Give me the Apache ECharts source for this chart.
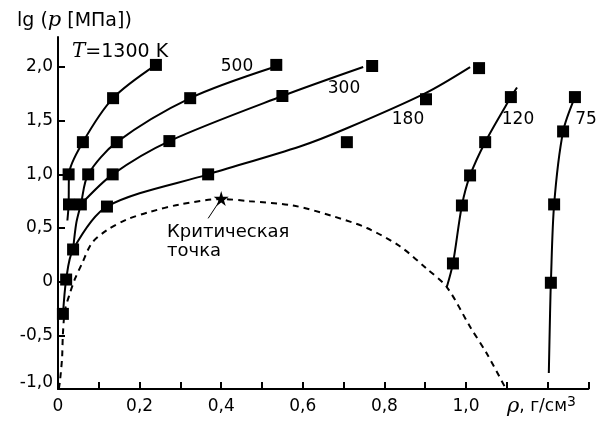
<!DOCTYPE html>
<html>
<head>
<meta charset="utf-8">
<script src="https://cdn.jsdelivr.net/npm/echarts@6/dist/echarts.min.js"></script>
<style>
  html, body { margin: 0; padding: 0; background: #fff; }
  #chart { width: 606px; height: 422px; }
</style>
</head>
<body>
<div id="chart"></div>
<script>
// measured points (squares), [rho, lg p]
var sq1300 = [[0.026, 1.0], [0.061, 1.30], [0.135, 1.71], [0.24, 2.02]]
var sqLow = [[0.027, 0.72], [0.056, 0.72]]
var sq500 = [[0.074, 1.0], [0.144, 1.30], [0.324, 1.71], [0.535, 2.02]]
var sq300 = [[0.134, 1.0], [0.273, 1.31], [0.55, 1.73], [0.77, 2.01]]
var sq180 = [[0.012, -0.30], [0.02, 0.02], [0.037, 0.30], [0.12, 0.70], [0.368, 1.0], [0.708, 1.30], [0.902, 1.70], [1.032, 1.99]]
var sq120 = [[0.968, 0.17], [0.99, 0.71], [1.01, 0.99], [1.047, 1.30], [1.11, 1.72]]
var sq75 = [[1.208, -0.01], [1.216, 0.72], [1.238, 1.40], [1.267, 1.72]]

// isotherm curves
var line1300 = [[0.023, 0.57], [0.026, 0.72], [0.027, 1.0], [0.061, 1.30], [0.135, 1.71], [0.24, 2.02]]
var line500 = [[0.037, 0.30], [0.045, 0.55], [0.056, 0.72], [0.074, 1.0], [0.144, 1.30], [0.324, 1.71], [0.53, 2.0]]
var line300 = [[0.056, 0.72], [0.134, 1.0], [0.273, 1.31], [0.55, 1.73], [0.748, 2.0]]
var line180 = [[0.012, -0.32], [0.02, 0.02], [0.037, 0.30], [0.12, 0.70], [0.368, 1.0], [0.593, 1.26], [0.708, 1.43], [0.902, 1.76], [1.01, 2.0]]
var line120 = [[0.953, -0.05], [0.968, 0.17], [0.99, 0.71], [1.01, 0.99], [1.047, 1.30], [1.11, 1.72], [1.125, 1.81]]
var line75 = [[1.203, -0.85], [1.206, -0.3], [1.208, -0.01], [1.216, 0.72], [1.238, 1.40], [1.267, 1.72]]

// coexistence curve (dashed)
var dome = [[0.002, -1.0], [0.005, -0.92], [0.01, -0.71], [0.012, -0.49], [0.017, -0.27], [0.029, -0.11], [0.042, 0.03],
  [0.059, 0.17], [0.083, 0.36], [0.12, 0.48], [0.169, 0.58], [0.225, 0.65], [0.299, 0.72], [0.40, 0.77],
  [0.47, 0.75], [0.576, 0.71], [0.674, 0.61], [0.757, 0.50], [0.838, 0.33], [0.904, 0.12], [0.953, -0.05],
  [1.01, -0.42], [1.051, -0.67], [1.098, -1.0]]
var critical = [[0.40, 0.775]]
var leader = [[0.395, 0.745], [0.368, 0.59]]

var xTicks = [0, 0.1, 0.2, 0.3, 0.4, 0.5, 0.6, 0.7, 0.8, 0.9, 1.0, 1.1, 1.2, 1.3]
var xLabels = [0, 0.2, 0.4, 0.6, 0.8, 1.0]
var yTicks = [-1, -0.5, 0, 0.5, 1, 1.5, 2]

var FONT = '"DejaVu Sans", sans-serif'
var SERIF = '"DejaVu Serif", serif'

function fmt(v) {
  if (Math.abs(v) < 1e-9) return '0'
  return v.toFixed(1).replace('.', ',')
}

function curve(data, dashed) {
  return {
    type: 'line',
    data: data,
    smooth: 0.3,
    symbol: 'none',
    silent: true,
    z: 2,
    lineStyle: { color: '#000', width: 2, type: dashed ? [6, 5] : 'solid' },
  }
}

function squares(data) {
  return {
    type: 'scatter',
    data: data,
    symbol: 'rect',
    symbolSize: 12,
    z: 3,
    itemStyle: { color: '#000', opacity: 1 },
  }
}

function label(text, x, y) {
  return {
    type: 'text',
    x: x,
    y: y,
    style: { text: text, font: '17px ' + FONT, fill: '#000', align: 'center', verticalAlign: 'middle' },
  }
}

var myChart = echarts.init(document.getElementById('chart'))

var option = {
  animation: false,
  backgroundColor: '#fff',
  grid: { left: 58, right: 17.6, top: 37, bottom: 33 },
  xAxis: {
    type: 'value',
    min: 0,
    max: 1.3,
    interval: 0.1,
    splitLine: { show: false },
    axisLine: { onZero: false, lineStyle: { color: '#000', width: 2 } },
    axisTick: { inside: true, length: 7, customValues: xTicks, lineStyle: { color: '#000', width: 2 } },
    axisLabel: {
      customValues: xLabels,
      margin: 9,
      color: '#000',
      fontSize: 17,
      fontFamily: FONT,
      formatter: fmt,
    },
  },
  yAxis: {
    type: 'value',
    min: -1,
    max: 2.28,
    interval: 0.5,
    splitLine: { show: false },
    axisLine: { onZero: false, lineStyle: { color: '#000', width: 2 } },
    axisTick: { inside: true, length: 7, customValues: yTicks, lineStyle: { color: '#000', width: 2 } },
    axisLabel: {
      customValues: yTicks,
      margin: 5,
      color: '#000',
      fontSize: 17,
      fontFamily: FONT,
      formatter: function (v) {
        if (v === -1) return '{low|' + fmt(v) + '}'
        return fmt(v)
      },
      rich: { low: { fontSize: 17, fontFamily: FONT, color: '#000', padding: [0, 0, 12, 0] } },
    },
  },
  series: [
    curve(dome, true),
    curve(line1300),
    curve(line500),
    curve(line300),
    curve(line180),
    curve(line120),
    curve(line75),
    {
      type: 'line',
      data: leader,
      symbol: 'none',
      silent: true,
      lineStyle: { color: '#000', width: 1 },
    },
    squares(sq1300),
    squares(sqLow),
    squares(sq500),
    squares(sq300),
    squares(sq180),
    squares(sq120),
    squares(sq75),
    {
      type: 'scatter',
      data: critical,
      symbol: 'path://M50,0 L61,35 L98,35 L68,57 L79,91 L50,70 L21,91 L32,57 L2,35 L39,35 Z',
      symbolSize: 15,
      z: 4,
      itemStyle: { color: '#000', opacity: 1 },
    },
  ],
  graphic: [
    {
      type: 'text',
      x: 17,
      y: 21,
      style: {
        text: '{a|lg (}{p|p}{a| [МПа])}',
        verticalAlign: 'middle',
        rich: {
          a: { font: '19px ' + FONT, fill: '#000' },
          p: { font: 'italic 21px ' + SERIF, fill: '#000' },
        },
      },
    },
    {
      type: 'text',
      x: 72,
      y: 52,
      style: {
        text: '{t|T}{a|=1300 K}',
        verticalAlign: 'middle',
        rich: {
          t: { font: 'italic 20px ' + SERIF, fill: '#000' },
          a: { font: '19px ' + FONT, fill: '#000' },
        },
      },
    },
    label('500', 237, 67),
    label('300', 344, 89),
    label('180', 408, 120),
    label('120', 518, 120),
    label('75', 586, 120),
    {
      type: 'text',
      x: 167,
      y: 223,
      style: {
        text: 'Критическая\nточка',
        font: '18px ' + FONT,
        lineHeight: 19,
        fill: '#000',
      },
    },
    {
      type: 'text',
      x: 507,
      y: 407,
      style: {
        text: '{r|ρ}{a|, г/см}{s|3}',
        verticalAlign: 'middle',
        rich: {
          r: { font: 'italic 21px ' + SERIF, fill: '#000' },
          a: { font: '17px ' + FONT, fill: '#000' },
          s: { font: '14px ' + FONT, fill: '#000', padding: [0, 0, 10, 0] },
        },
      },
    },
  ],
}

myChart.setOption(option)
</script>
</body>
</html>
